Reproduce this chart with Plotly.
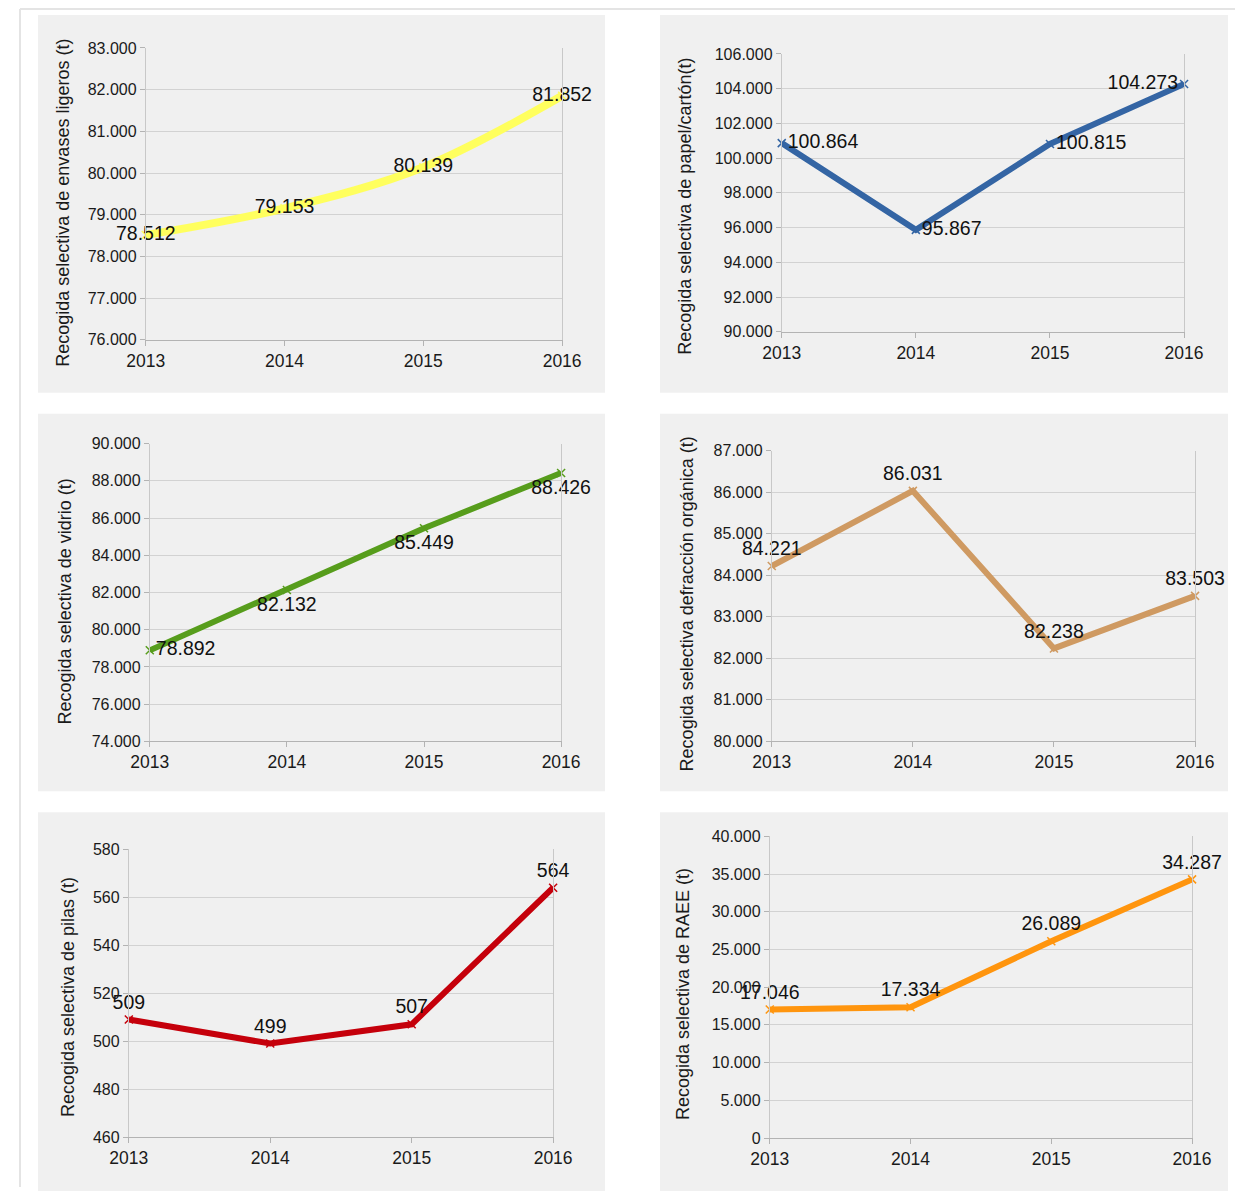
import plotly.graph_objects as go

W, H = 1254, 1196

years = [2013, 2014, 2015, 2016]
envases = [78512, 79153, 80139, 81852]
papel = [100864, 95867, 100815, 104273]
vidrio = [78892, 82132, 85449, 88426]
organica = [84221, 86031, 82238, 83503]
pilas = [509, 499, 507, 564]
raee = [17046, 17334, 26089, 34287]

titles = [
    "Recogida selectiva de envases ligeros (t)",
    "Recogida selectiva de papel/cartón(t)",
    "Recogida selectiva de vidrio (t)",
    "Recogida selectiva defracción orgánica (t)",
    "Recogida selectiva de pilas (t)",
    "Recogida selectiva de RAEE (t)",
]
series = [envases, papel, vidrio, organica, pilas, raee]
colors = ["#ffff5e", "#3465a4", "#579d1c", "#cf9a62", "#c5000b", "#ff950e"]
widths = [8, 6, 6, 6, 6, 6]
shapes_line = ["spline", "linear", "linear", "linear", "linear", "linear"]
yranges = [(76000, 83000), (90000, 106000), (74000, 90000), (80000, 87000), (460, 580), (0, 40000)]
ydticks = [1000, 2000, 2000, 1000, 20, 5000]
textpos = [
    ["middle center"] * 4,
    ["middle right", "middle right", "middle right", "middle left"],
    ["middle right", "bottom center", "bottom center", "bottom center"],
    ["top center"] * 4,
    ["top center"] * 4,
    ["top center"] * 4,
]

# target layout geometry in picture pixels
plot_px = [
    (145, 562, 48, 340),
    (782, 1185, 54, 332),
    (149, 561, 444, 742),
    (772, 1196, 451, 742),
    (128, 553, 850, 1138),
    (770, 1193, 837, 1139),
]
panel_px = [
    (37, 605, 15, 393),
    (660, 1229, 15, 393),
    (37, 605, 414, 792),
    (660, 1229, 414, 792),
    (37, 605, 813, 1192),
    (660, 1229, 813, 1192),
]
title_px = [(62, 203), (685, 206), (65, 602), (688, 604), (67, 998), (683, 995)]

# the photographed page is shown inset in the picture (measured): x 18..1236, y 8..1188
IX0, IX1, IY0, IY1 = 18, 1236, 8, 1188

def px(x):
    return (x - IX0) / (IX1 - IX0)

def py(y):
    return 1 - (y - IY0) / (IY1 - IY0)

fig = go.Figure()
shapes = []
annotations = []
FONT = "Liberation Sans, Arial, sans-serif"

for i in range(6):
    n = "" if i == 0 else str(i + 1)
    x0, x1, y0, y1 = plot_px[i]
    fig.add_trace(go.Scatter(
        x=years, y=series[i], mode="lines+markers+text",
        line=dict(color=colors[i], width=widths[i], shape=shapes_line[i]),
        marker=dict(symbol="x-thin", size=8, color=colors[i], line=dict(color=colors[i], width=1.5)),
        text=series[i], texttemplate="%{y:,d}", textposition=textpos[i],
        textfont=dict(family=FONT, size=19.5, color="#111111"),
        xaxis="x" + n, yaxis="y" + n, showlegend=False, cliponaxis=False,
        hoverinfo="skip",
    ))
    fig.layout["xaxis" + n] = dict(
        domain=[px(x0), px(x1)], anchor="y" + n, range=[2013, 2016],
        tickvals=years, ticks="outside", ticklen=5, tickcolor="#b3b3b3",
        showgrid=False, showline=True, linecolor="#b3b3b3", linewidth=1,
        tickfont=dict(family=FONT, size=17.5, color="#1a1a1a"), zeroline=False,
    )
    fig.layout["yaxis" + n] = dict(
        domain=[py(y1), py(y0)], anchor="x" + n, range=list(yranges[i]),
        dtick=ydticks[i], tick0=0, tickformat=",d", ticks="outside", ticklen=5,
        tickcolor="#b3b3b3", showgrid=True, gridcolor="#d2d2d2", gridwidth=1,
        showline=True, mirror=True, linecolor="#c8c8c8", linewidth=1, zeroline=False,
        tickfont=dict(family=FONT, size=16, color="#1a1a1a"),
    )
    a0, a1, b0, b1 = panel_px[i]
    shapes.append(dict(type="rect", xref="paper", yref="paper", x0=px(a0), x1=px(a1),
                       y0=py(b1), y1=py(b0), fillcolor="#f0f0f0", line=dict(width=0), layer="below"))
    tx, ty = title_px[i]
    annotations.append(dict(text=titles[i], xref="paper", yref="paper", x=px(tx), y=py(ty),
                            textangle=-90, showarrow=False, xanchor="center", yanchor="middle",
                            font=dict(family=FONT, size=18, color="#1a1a1a")))

# outer page frame (top and left)
shapes.append(dict(type="line", xref="paper", yref="paper", x0=px(19), x1=1, y0=py(9), y1=py(9),
                   line=dict(color="#e4e4e4", width=2)))
shapes.append(dict(type="line", xref="paper", yref="paper", x0=px(19), x1=px(19), y0=0, y1=py(9),
                   line=dict(color="#e4e4e4", width=2)))

fig.update_layout(
    width=W, height=H, margin=dict(l=0, r=0, t=0, b=0),
    paper_bgcolor="white", plot_bgcolor="rgba(0,0,0,0)",
    separators=",.", shapes=shapes, annotations=annotations,
)

fig.write_html(
    "out.html",
    config={"displayModeBar": False},
    post_script="document.documentElement.style.margin='0';document.body.style.margin='0';"
                "document.body.style.padding='0';document.body.style.overflow='hidden';",
)
